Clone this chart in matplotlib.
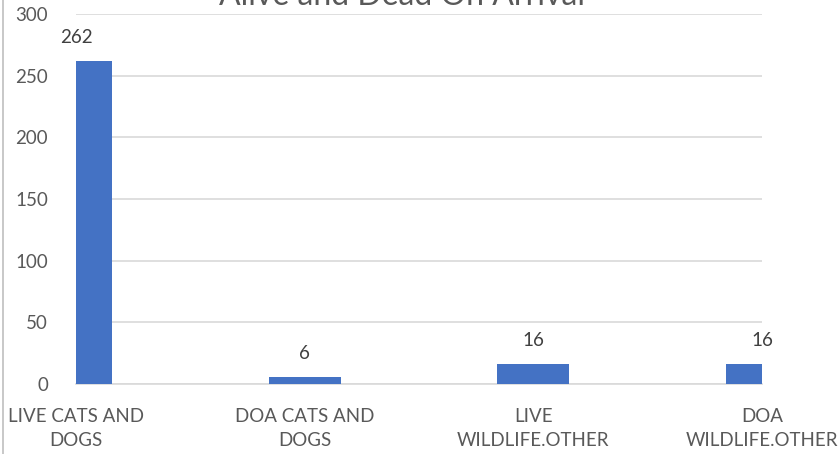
import matplotlib
matplotlib.use("Agg")
from matplotlib import pyplot as plt

categories = ["LIVE CATS AND\nDOGS", "DOA CATS AND\nDOGS", "LIVE\nWILDLIFE.OTHER", "DOA\nWILDLIFE.OTHER"]
counts = [262, 6, 16, 16]
yticks = [0, 50, 100, 150, 200, 250, 300]

plt.rcParams['font.family'] = ['Lato', 'DejaVu Sans']
grey = '#595959'

fig = plt.figure(figsize=(8.39, 4.54), dpi=100)
ax = fig.add_axes([76 / 839, 1 - 384 / 454, (762 - 76) / 839, (384 - 14) / 454])

x = list(range(len(counts)))
bars = ax.bar(x, counts, width=0.314, color='#4472C4', zorder=3)
for xi, v in zip(x, counts):
    ax.text(xi, v + 12, str(v), ha='center', va='bottom', fontsize=13.5, color='#404040', clip_on=False)

ax.set_xlim(0.005, 2.995)
ax.set_ylim(0, 300)
ax.set_yticks(yticks)
ax.set_xticks(x)
ax.set_xticklabels(categories, fontsize=13.5, color=grey, linespacing=1.5)
ax.tick_params(axis='y', labelsize=13.5, colors=grey, length=0, pad=20)
ax.tick_params(axis='x', length=0, pad=17)
ax.grid(axis='y', color='#d9d9d9', linewidth=1.2, zorder=0)
for s in ['top', 'right', 'left']:
    ax.spines[s].set_visible(False)
ax.spines['bottom'].set_color('#d9d9d9')
ax.spines['bottom'].set_linewidth(1.2)

fig.text(402 / 839, 1 - 5 / 454, 'Alive and Dead On Arrival', ha='center', va='baseline',
         fontsize=23, color=grey)
# chart border at the left edge
fig.add_artist(plt.Line2D([2.5 / 839, 2.5 / 839], [0, 1], color='#bfbfbf', linewidth=1.2))

fig.savefig('out.png', dpi=100)
